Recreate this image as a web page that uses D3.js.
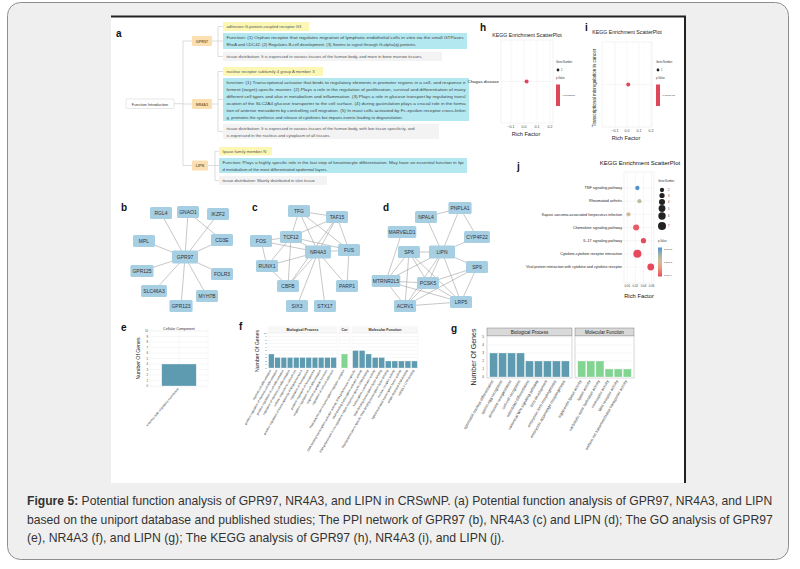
<!DOCTYPE html>
<html><head><meta charset="utf-8">
<script src="https://cdn.jsdelivr.net/npm/d3@7"></script>
<style>body{margin:0;background:#fff}svg{display:block}text{font-family:"Liberation Sans",Arial,sans-serif}</style>
</head><body><svg id="c" width="800" height="569"></svg>
<script>
// ---------------- DATA ----------------
// panel a (function introduction mind map)
const geneNames = ["GPR97", "NR4A3", "LIPN"];
const proteinNames = ["adhesion G-protein-coupled receptor G3", "nuclear receptor subfamily 4 group A member 3", "lipase family member N"];
const functionLines = [
  ["Function: (1) Orphan receptor that regulates migration of lymphatic endothelial cells in vitro via the small GTPases",
   "RhoA and CDC42. (2) Regulates B-cell development. (3) Seems to signal through G-alpha(q)-proteins."],
  ["function: (1) Transcriptional activator that binds to regulatory elements in promoter regions in a cell- and response e",
   "lement (target)-specific manner. (2) Plays a role in the regulation of proliferation, survival and differentiation of many",
   "different cell types and also in metabolism and inflammation. (3) Plays a role in glucose transport by regulating transl",
   "ocation of the SLC2A4 glucose transporter to the cell surface. (4) during gastrulation plays a crucial role in the forma",
   "tion of anterior mesoderm by controlling cell migration. (5) In mast cells activated by Fc-epsilon receptor cross-linkin",
   "g, promotes the synthesis and release of cytokines but impairs events leading to degranulation."],
  ["Function: Plays a highly specific role in the last step of keratinocyte differentiation. May have an essential function in lipi",
   "d metabolism of the most differentiated epidermal layers."]
];
const tissueLines = [
  ["tissue distribution: It is expressed in various tissues of the human body, and more in bone marrow tissues."],
  ["tissue distribution: It is expressed in various tissues of the human body, with low tissue specificity, and",
   "is expressed in the nucleus and cytoplasm of all tissues."],
  ["tissue distribution: Mainly distributed in skin tissue"]
];

// panels b, c, d (PPI networks)
const netBNodes = ["RGL4","GNAO1","IKZF2","MPL","CD3E","GPR97","GPR125","FOLR3","SLC46A3","MYH7B","GPR123"];
const netBEdges = [["GPR97","RGL4"],["GPR97","GNAO1"],["GPR97","IKZF2"],["GPR97","MPL"],["GPR97","CD3E"],["GPR97","GPR125"],["GPR97","FOLR3"],["GPR97","SLC46A3"],["GPR97","MYH7B"],["GPR97","GPR123"],["GNAO1","CD3E"]];
const netCNodes = ["TFG","TAF15","TCF12","FOS","FUS","NR4A3","RUNX1","CBFB","PARP1","SIX3","STX17"];
const netCEdges = [["NR4A3","TFG"],["NR4A3","TAF15"],["NR4A3","TCF12"],["NR4A3","FOS"],["NR4A3","FUS"],["NR4A3","RUNX1"],["NR4A3","CBFB"],["NR4A3","PARP1"],["NR4A3","SIX3"],["NR4A3","STX17"],
  ["TFG","TAF15"],["TFG","TCF12"],["TFG","FUS"],["TAF15","TCF12"],["TAF15","FUS"],["TAF15","CBFB"],["TCF12","FOS"],["TCF12","RUNX1"],["TCF12","CBFB"],["TCF12","FUS"],["FOS","RUNX1"],["RUNX1","CBFB"],["FUS","PARP1"]];
const netDNodes = ["PNPLA1","NPAL4","MARVELD1","CYP4F22","SP6","LIPN","SP9","MTRNR2L5","PCSK5","ACRV1","LRP5"];
const netDEdges = [["LIPN","PNPLA1"],["LIPN","NPAL4"],["LIPN","CYP4F22"],["LIPN","SP6"],["LIPN","SP9"],["LIPN","PCSK5"],["LIPN","MTRNR2L5"],["LIPN","ACRV1"],["LIPN","LRP5"],
  ["NPAL4","PNPLA1"],["PNPLA1","CYP4F22"],["MARVELD1","MTRNR2L5"],["SP6","MTRNR2L5"],["SP6","PCSK5"],["SP6","ACRV1"],["SP6","LRP5"],["SP9","PCSK5"],["SP9","ACRV1"],["SP9","LRP5"],
  ["PCSK5","MTRNR2L5"],["PCSK5","ACRV1"],["PCSK5","LRP5"],["MTRNR2L5","LRP5"],["ACRV1","LRP5"],["MTRNR2L5","ACRV1"]];

// panel e (GO GPR97)
const eTerms = ["external side of plasma membrane"];
const eCounts = [4];
// panel f (GO NR4A3)
const fBPTerms = ["myeloid cell differentiation","positive regulation of myeloid cell differentiation","positive regulation of cell differentiation","regulation of myeloid cell differentiation","cellular response to calcium ion","positive regulation of transcription by RNA polymerase II","regulation of hemopoiesis","positive regulation of hemopoiesis","negative regulation of cell differentiation","response to peptide hormone","regulation of cell-cell adhesion"];
const fBPCounts = [4,3,3,3,3,3,3,3,3,3,3];
const fCCTerms = ["RNA polymerase II transcription regulator complex"];
const fCCCounts = [4];
const fMFTerms = ["DNA-binding transcription activator activity, RNA polymerase II-specific","DNA-binding transcription activator activity","RNA polymerase II cis-regulatory region sequence-specific DNA binding","transcription coactivator activity","DNA-binding transcription factor binding","RNA polymerase II-specific DNA-binding transcription factor binding","nuclear receptor activity","ligand-activated transcription factor activity","single-stranded RNA binding","mRNA 3'-UTR binding"];
const fMFCounts = [5,5,4,3,3,2,2,2,2,2];
// panel g (GO LIPN)
const gBPTerms = ["spermatid nucleus differentiation","sperm-egg recognition","acrosome reorganization","cell-cell recognition","osteoblast differentiation","canonical Wnt signaling pathway","limb development","embryonic limb morphogenesis","embryonic appendage morphogenesis"];
const gBPCounts = [3,3,3,3,2,2,2,2,2];
const gMFTerms = ["triglyceride lipase activity","lipase activity","carboxylic ester hydrolase activity","coreceptor activity","Wnt receptor activity","sodium ion transmembrane transporter activity"];
const gMFCounts = [2,2,2,1,1,1];
const goYTicksE = [0,1,2,3,4,5,6,7,8,9,10];
const goYTicksG = [0,1,2,3,4,5];

// panels h, i (KEGG single terms)
const hTerms = ["Chagas disease"], hRich = [0.02], hCount = [1], hPLabel = "0.00183187";
const iTerms = ["Transcriptional misregulation in cancer"], iRich = [0.01], iCount = [1], iPLabel = "0.01776470";
const hiTicks = [-0.1, 0.0, 0.1, 0.2];
// panel j (KEGG LIPN)
const jTerms = ["TNF signaling pathway","Rheumatoid arthritis","Kaposi sarcoma-associated herpesvirus infection","Chemokine signaling pathway","IL-17 signaling pathway","Cytokine-cytokine receptor interaction","Viral protein interaction with cytokine and cytokine receptor"];
const jRich = [0.025, 0.03, 0.003, 0.022, 0.04, 0.025, 0.058];
const jCount = [2, 2, 2, 4, 3, 7, 5];
const jPValue = [0.0020, 0.0014, 0.0013, 0.0006, 0.0005, 0.0005, 0.0005];
const jXTicks = [0.00, 0.02, 0.04, 0.06];
const jSizeLegend = [2, 3, 4, 5, 6, 7];
const jPTicks = [0.002, 0.00125, 0.0005];

const captionLines = [
  ["Figure 5:", " Potential function analysis of GPR97, NR4A3, and LIPN in CRSwNP. (a) Potential function analysis of GPR97, NR4A3, and LIPN"],
  ["", "based on the uniport database and published studies; The PPI network of GPR97 (b), NR4A3 (c) and LIPN (d); The GO analysis of GPR97"],
  ["", "(e), NR4A3 (f), and LIPN (g); The KEGG analysis of GPR97 (h), NR4A3 (i), and LIPN (j)."]
];

// ---------------- LAYOUT ----------------
const netBLayout = [[31,8],[58,7],[88,9],[14,36],[92,35],[55,52],[12,66],[92,69],[24,86],[77,91],[51,101]];
const netCLayout = [[49,6],[87,12],[41,32],[11,36],[99,45],[68,47],[17,61],[38,81],[97,81],[47,101],[75,101]];
const netDLayout = [[80,3],[46,12],[22,27],[97,32],[29,47],[62,47],[97,62],[6,76],[48,78],[25,101],[81,97]];

const svg = d3.select("#c");
function T(x, y, s, size, o = {}) {
  const t = svg.append("text").attr("x", x).attr("y", y).attr("font-size", size).text(s)
    .attr("fill", o.fill || "#222");
  if (o.anchor) t.attr("text-anchor", o.anchor);
  if (o.weight) t.attr("font-weight", o.weight);
  if (o.len) t.attr("textLength", o.len).attr("lengthAdjust", "spacingAndGlyphs");
  if (o.rot != null) t.attr("transform", `rotate(${o.rot},${x},${y})`);
  return t;
}
function R(x, y, w, h, fill, o = {}) {
  return svg.append("rect").attr("x", x).attr("y", y).attr("width", w).attr("height", h)
    .attr("fill", fill).attr("stroke", o.stroke || "none").attr("stroke-width", o.sw || 0.5).attr("rx", o.rx || 0);
}
function L(x1, y1, x2, y2, c, w) {
  return svg.append("line").attr("x1", x1).attr("y1", y1).attr("x2", x2).attr("y2", y2).attr("stroke", c).attr("stroke-width", w);
}

// ---------------- FRAME ----------------
R(0, 0, 800, 569, "#fff");
R(7.5, 2.5, 781, 557, "#efefef", {stroke: "#8f8f8f", sw: 1, rx: 13});
R(111, 16, 574, 467, "#fff");
L(111, 16.5, 686, 16.5, "#222", 2);
L(685, 16, 685, 483, "#222", 2);

// panel letters
[["a",116,37],["h",480,31],["i",585,31],["j",517,170],["b",121,211],["c",252,211],["d",383,211],["e",121,331],["f",239,330],["g",451,332]]
  .forEach(d => T(d[1], d[2], d[0], 10, {weight: "bold", fill: "#111"}));

// ---------------- PANEL a ----------------
const aBlocks = [
  {gy: 41, gw: 20, brX: 218, bx: 223, yel: [22, 9, 86], cyan: [33, 16, 244], gray: [52, 9, 219]},
  {gy: 104, gw: 20, brX: 218, bx: 223, yel: [67, 9, 100], cyan: [78, 43, 246], gray: [124, 15, 216]},
  {gy: 165.5, gw: 16, brX: 215, bx: 219, yel: [147, 8.5, 53], cyan: [158, 15, 248], gray: [176, 9, 108]}
];
const lineC = "#c8c8c8";
R(126, 99, 48, 9.5, "#fff", {stroke: "#d6d6d6", sw: 0.6, rx: 1});
T(150, 105.5, "Function Introduction", 3.9, {anchor: "middle", fill: "#333"});
L(174, 103.7, 183, 103.7, lineC, 0.6);
L(183, aBlocks[0].gy, 183, aBlocks[2].gy, lineC, 0.6);
aBlocks.forEach((b, i) => {
  L(183, b.gy, 192, b.gy, lineC, 0.6);
  R(192, b.gy - 5, b.gw, 10, "#fcdfb1", {rx: 1.2});
  T(192 + b.gw / 2, b.gy + 1.5, geneNames[i], 3.8, {anchor: "middle", fill: "#8b6a40", weight: "bold"});
  const mids = [b.yel[0] + b.yel[1] / 2, b.cyan[0] + b.cyan[1] / 2, b.gray[0] + b.gray[1] / 2];
  L(192 + b.gw, b.gy, b.brX, b.gy, lineC, 0.6);
  L(b.brX, mids[0], b.brX, mids[2], lineC, 0.6);
  mids.forEach(m => L(b.brX, m, b.bx, m, lineC, 0.6));
  R(b.bx, b.yel[0], b.yel[2], b.yel[1], "#fdf7b6");
  T(b.bx + 3.5, b.yel[0] + b.yel[1] / 2 + 1.5, proteinNames[i], 4.2, {fill: "#555"});
  R(b.bx, b.cyan[0], b.cyan[2], b.cyan[1], "#b3e8f1");
  functionLines[i].forEach((s, k) => {
    const last = k === functionLines[i].length - 1;
    T(b.bx + 3.5, b.cyan[0] + 6.3 + k * 7, s, 4.2, {fill: "#444", len: last ? null : b.cyan[2] - 7});
  });
  R(b.bx, b.gray[0], b.gray[2], b.gray[1], "#f3f3f3");
  tissueLines[i].forEach((s, k) => {
    T(b.bx + 3.5, b.gray[0] + (tissueLines[i].length > 1 ? 6.3 : 6) + k * 6.5, s, 4.2, {fill: "#555"});
  });
});

// ---------------- NETWORKS ----------------
function network(nodes, edges, layout, x0, y0, hub) {
  const sx = d3.scaleLinear([0, 100], [x0, x0 + 100]);
  const sy = d3.scaleLinear([0, 100], [y0, y0 + 100]);
  const pos = {};
  nodes.forEach((n, i) => pos[n] = [sx(layout[i][0]), sy(layout[i][1])]);
  edges.forEach(e => L(pos[e[0]][0], pos[e[0]][1], pos[e[1]][0], pos[e[1]][1], "#8f8f8f", 0.5));
  nodes.forEach(n => {
    const big = n === hub;
    const w = Math.max(big ? 26 : 22, 7 + n.length * 2.7), h = big ? 13 : 12;
    R(pos[n][0] - w / 2, pos[n][1] - h / 2, w, h, "#a7cfe3", {rx: 1.5});
    T(pos[n][0], pos[n][1] + 1.9, n, 5, {anchor: "middle", fill: "#333"});
  });
}
network(netBNodes, netBEdges, netBLayout, 130, 205, "GPR97");
network(netCNodes, netCEdges, netCLayout, 250, 205, "NR4A3");
network(netDNodes, netDEdges, netDLayout, 380, 205, "LIPN");

// ---------------- GO bar panels ----------------
const blue = "#5e9bb0", green = "#82d591";
function goFacet(terms, counts, xr, y, color, po, rot, fsz, labY) {
  const x = d3.scaleBand(terms, xr).paddingInner(0.12).paddingOuter(po);
  svg.append("g").selectAll("rect").data(terms).join("rect")
    .attr("x", d => x(d)).attr("width", x.bandwidth())
    .attr("y", (d, i) => y(counts[i])).attr("height", (d, i) => y(0) - y(counts[i]))
    .attr("fill", color).attr("stroke", "#fff").attr("stroke-width", 0.3);
  terms.forEach(t => T(x(t) + x.bandwidth() / 2, labY, t, fsz, {anchor: "end", rot: rot, fill: "#333"}));
}
function gridPanel(x0, x1, y, ticks, border) {
  R(x0, y.range()[1], x1 - x0, y.range()[0] - y.range()[1] + 1, "#fff", {stroke: border, sw: 0.4});
  ticks.forEach(t => L(x0, y(t), x1, y(t), "#ebebeb", 0.4));
}
// e
{
  const y = d3.scaleLinear([0, 10], [386, 331]);
  gridPanel(150, 208, y, goYTicksE, "#eeeeee");
  L(179, 331, 179, 386, "#ebebeb", 0.4);
  T(179, 329.5, "Cellular Component", 3.6, {anchor: "middle", fill: "#333"});
  goYTicksE.forEach(t => T(148, y(t) + 1, t, 2.8, {anchor: "end", fill: "#444"}));
  goFacet(eTerms, eCounts, [150, 208], y, blue, 0.3, -50, 3.2, 389);
  T(140, 358.5, "Number Of Genes", 5.2, {anchor: "middle", rot: -90});
}
// f
{
  const y = d3.scaleLinear([0, 10], [368, 333]);
  const facets = [[fBPTerms, fBPCounts, [268, 337], blue, 0.1, "Biological Process"],
                  [fCCTerms, fCCCounts, [339, 350], green, 0.3, "Cor"],
                  [fMFTerms, fMFCounts, [352, 418], blue, 0.1, "Molecular Function"]];
  facets.forEach(f => {
    R(f[2][0], 326, f[2][1] - f[2][0], 7, "#f7f7f7");
    T((f[2][0] + f[2][1]) / 2, 331, f[5], 3.6, {anchor: "middle", fill: "#333", weight: "bold"});
    gridPanel(f[2][0], f[2][1], y, goYTicksE, "#f0f0f0");
    goFacet(f[0], f[1], f[2], y, f[3], f[4], -60, 3, 370.5);
  });
  goYTicksE.forEach(t => T(266.5, y(t) + 0.8, t, 2.4, {anchor: "end", fill: "#444"}));
  T(258.5, 351, "Number Of Genes", 5.2, {anchor: "middle", rot: -90});
}
// g
{
  const y = d3.scaleLinear([0, 5], [377, 337]);
  const facets = [[gBPTerms, gBPCounts, [487, 572], blue, "Biological Process"],
                  [gMFTerms, gMFCounts, [575, 634], green, "Molecular Function"]];
  facets.forEach(f => {
    R(f[2][0], 328, f[2][1] - f[2][0], 8, "#d9d9d9", {stroke: "#666", sw: 0.4});
    T((f[2][0] + f[2][1]) / 2, 334, f[4], 4.6, {anchor: "middle", fill: "#222"});
    R(f[2][0], 336, f[2][1] - f[2][0], 42, "#fff", {stroke: "#999", sw: 0.4});
    goYTicksG.forEach(t => L(f[2][0], y(t), f[2][1], y(t), "#ebebeb", 0.4));
    goFacet(f[0], f[1], f[2], y, f[3], 0.3, -60, 3.9, 381);
  });
  goYTicksG.forEach(t => T(484, y(t) + 1.2, t, 3.2, {anchor: "end", fill: "#444"}));
  T(476, 357, "Number Of Genes", 7, {anchor: "middle", rot: -90, fill: "#222"});
}

// ---------------- KEGG h, i ----------------
const red = "#e0465a";
function keggSingle(terms, rich, count, xr, yr, dom, titleY, tickY, rfY, rotLabel, legX, pLabel) {
  const x = d3.scaleLinear(dom, xr);
  const y = d3.scalePoint(terms, yr).padding(0.5);
  R(xr[0], yr[0], xr[1] - xr[0], yr[1] - yr[0], "#fff", {stroke: "#e2e2e2", sw: 0.4});
  hiTicks.forEach((t, k) => {
    L(x(t), yr[0], x(t), yr[1], "#ececec", 0.5);
    if (k < hiTicks.length - 1) L(x(t + 0.05), yr[0], x(t + 0.05), yr[1], "#f5f5f5", 0.3);
    T(x(t), tickY, d3.format(".1f")(t), 3.6, {anchor: "middle", fill: "#444"});
  });
  terms.forEach(t => L(xr[0], y(t), xr[1], y(t), "#ececec", 0.5));
  svg.append("g").selectAll("circle").data(terms).join("circle")
    .attr("cx", (d, i) => x(rich[i])).attr("cy", d => y(d)).attr("r", 2).attr("fill", red);
  T((xr[0] + xr[1]) / 2, titleY, "KEGG Enrichment ScatterPlot", 5.2, {anchor: "middle", fill: "#222"});
  T((xr[0] + xr[1]) / 2 - 1, rfY, "Rich Factor", 5.6, {anchor: "middle", fill: "#222"});
  if (rotLabel) T(xr[0] - 6.5, 88, terms[0], 4.6, {anchor: "middle", rot: -90});
  else T(xr[0] - 2, y(terms[0]) + 1.5, terms[0], 4.4, {anchor: "end"});
  T(legX, 63, "Gene Number", 2.6, {fill: "#333"});
  svg.append("circle").attr("cx", legX + 2).attr("cy", 70).attr("r", 1.4).attr("fill", "#222");
  T(legX + 5, 71, count[0], 2.6, {fill: "#333"});
  T(legX, 79, "p.Value", 2.6, {fill: "#333"});
  R(legX, 84.5, 4, 21.5, red);
  T(legX + 6.5, 96, pLabel, 2.4, {fill: "#333"});
}
keggSingle(hTerms, hRich, hCount, [501, 553], [40, 123], [-0.177, 0.223], 36.5, 127.5, 136, false, 556, hPLabel);
keggSingle(iTerms, iRich, iCount, [602, 652], [42, 127], [-0.208, 0.208], 34, 131.5, 140, true, 656, iPLabel);

// ---------------- KEGG j ----------------
{
  const xr = [624, 654], yr = [172, 283];
  const x = d3.scaleLinear([-0.008, 0.066], xr);
  const y = d3.scalePoint(jTerms, [188, 267]);
  const size = d3.scaleSqrt([0, 7], [0, 4]);
  const colInterp = d3.interpolateRgbBasis(["#e5495c", "#f6dd93", "#4d92cf"]);
  const col = d3.scaleSequential([0.0005, 0.002], colInterp);
  R(xr[0], yr[0], xr[1] - xr[0], yr[1] - yr[0], "#fff", {stroke: "#e2e2e2", sw: 0.4});
  jXTicks.forEach(t => {
    L(x(t), yr[0], x(t), yr[1], "#ececec", 0.5);
    T(x(t), 286.5, d3.format(".2f")(t), 2.9, {anchor: "middle", fill: "#444"});
  });
  jTerms.forEach(t => {
    L(xr[0], y(t), xr[1], y(t), "#ececec", 0.5);
    T(622, y(t) + 1.3, t, 3.7, {anchor: "end", fill: "#222"});
  });
  svg.append("g").selectAll("circle").data(jTerms).join("circle")
    .attr("cx", (d, i) => x(jRich[i])).attr("cy", d => y(d))
    .attr("r", (d, i) => size(jCount[i])).attr("fill", (d, i) => col(jPValue[i]));
  T(640, 165, "KEGG Enrichment ScatterPlot", 6, {anchor: "middle", fill: "#111"});
  T(639, 298, "Rich Factor", 5.8, {anchor: "middle", fill: "#111"});
  // legends
  T(658, 181.5, "Gene Number", 2.6, {fill: "#333"});
  const ly = [190, 195.5, 202, 208.5, 216, 226];
  jSizeLegend.forEach((v, k) => {
    svg.append("circle").attr("cx", 662).attr("cy", ly[k]).attr("r", size(v)).attr("fill", "#222");
    T(668, ly[k] + 1, v, 2.6, {fill: "#333"});
  });
  T(658, 242, "p.Value", 2.6, {fill: "#333"});
  const grad = svg.append("defs").append("linearGradient").attr("id", "pg").attr("x1", 0).attr("x2", 0).attr("y1", 0).attr("y2", 1);
  d3.range(0, 1.01, 0.1).forEach(s => grad.append("stop").attr("offset", s).attr("stop-color", colInterp(1 - s)));
  const py = d3.scaleLinear([0.0005, 0.002], [275, 249]);
  R(658, 247.5, 4, 29, "url(#pg)");
  jPTicks.forEach(p => T(664, py(p) + 1, d3.format(".2e")(p), 2.4, {fill: "#333"}));
}

// ---------------- CAPTION ----------------
const capLens = [746, 746, 478];
captionLines.forEach((c, k) => {
  const g = svg.append("g");
  const t = g.append("text").attr("x", 0).attr("y", 0).attr("font-size", 13).attr("fill", "#333")
    .style("font-family", '"Liberation Sans Narrow","Arial Narrow","Liberation Sans",Arial,sans-serif');
  if (c[0]) t.append("tspan").attr("font-weight", "bold").text(c[0]);
  t.append("tspan").text(c[1]);
  const natural = t.node().getComputedTextLength();
  const s = capLens[k] / natural;
  g.attr("transform", `translate(27,${505 + k * 18.5}) scale(${s},1)`);
});
</script></body></html>
